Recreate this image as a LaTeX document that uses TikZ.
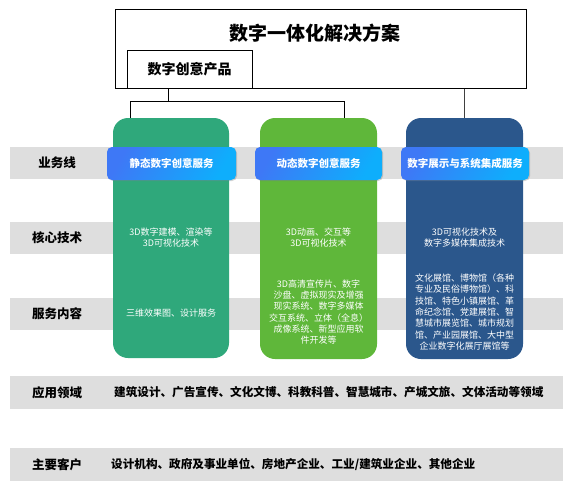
\documentclass[tikz,border=0pt]{standalone}
\usepackage{fontspec}
\setmainfont{Noto Sans CJK SC}
\usepackage{xcolor}
\usetikzlibrary{positioning,shadows}
\definecolor{bandGray}{RGB}{222,222,222}
\definecolor{svcGreen}{RGB}{47,168,123}
\definecolor{svcLime}{RGB}{95,183,58}
\definecolor{svcNavy}{RGB}{43,87,140}
\definecolor{tabBlue}{RGB}{62,120,246}
\definecolor{tabCyan}{RGB}{14,174,252}

\tikzset{
  rowlabel/.style={font=\fontsize{12.5}{14}\selectfont\bfseries, text=black},
  column/.style={rounded corners=15pt, minimum width=117pt, inner sep=0pt},
  tabbox/.style={rounded corners=5pt, minimum height=33pt, inner sep=0pt,
    left color=tabBlue, right color=tabCyan, shading angle=60,
    drop shadow={opacity=0.35, shadow xshift=1pt, shadow yshift=-1pt},
    text=white, font=\fontsize{10.5}{12}\selectfont\bfseries},
  bodytext/.style={text=white, align=center, inner sep=0pt,
    font=\fontsize{9}{11.3}\selectfont},
  link/.style={black, line width=0.8pt}
}

\begin{document}
\begin{tikzpicture}[x=1pt,y=-1pt]
    \useasboundingbox (0,0) rectangle (574,488);

    % row bands
    \foreach \top/\bot/\name in {147/179/业务线, 222/254/核心技术, 298/330/服务内容, 376/409/应用领域, 448/481/主要客户}{
      \fill[bandGray] (10,\top) rectangle (563,\bot);
      \node[rowlabel] at (57,{(\top+\bot)/2}) {\name};
    }

    % top solution box
    \node[draw, line width=0.9pt, minimum width=411pt, minimum height=78.5pt, inner sep=0pt] (sol) at (320.5,49) {};
    \node[font=\fontsize{19}{22}\selectfont\bfseries] (title) at (315,33) {数字一体化解决方案};
    \node[draw, line width=0.9pt, minimum width=125pt, minimum height=38pt, inner sep=0pt,
          font=\fontsize{14}{16}\selectfont\bfseries] (prod) at (189.5,69) {数字创意产品};

    % service columns
    \node[column, fill=svcGreen, minimum width=116pt, minimum height=240pt] (s1) at (171,238) {};
    \node[column, fill=svcLime, minimum height=241pt] (s2) at (318.5,238.5) {};
    \node[column, fill=svcNavy, minimum height=241pt] (s3) at (464.5,238.5) {};

    % connectors
    \coordinate (jn) at (168,101);
    \coordinate (jl) at (130,101);
    \coordinate (jr) at (344,101);
    \draw[link] (prod.south -| jn) -- (jn);
    \draw[link] (jl |- s1.north) -- (jl) -- (jr) -- (jr |- s2.north);
    \draw[link, black!75] (sol.south -| s3.north) -- (s3.north);

    % business line tabs
    \node[tabbox, minimum width=129pt] (t1) at (171.5,163.5) {静态数字创意服务};
    \node[tabbox, minimum width=127pt] (t2) at (318.5,163.5) {动态数字创意服务};
    \node[tabbox, minimum width=128pt] (t3) at (465,163.5) {数字展示与系统集成服务};

    % core technology
    \node[bodytext] (c1) at (171,237.5) {3D数字建模、渲染等\\3D可视化技术};
    \node[bodytext] (c2) at (318.5,237.5) {3D动画、交互等\\3D可视化技术};
    \node[bodytext] (c3) at (464.5,237.5) {3D可视化技术及\\数字多媒体集成技术};

    % service content
    \node[bodytext] (d1) at (171,313) {三维效果图、设计服务};
    \node[bodytext] (d2) at (318.5,312) {3D高清宣传片、数字\\沙盘、虚拟现实及增强\\现实系统、数字多媒体\\交互系统、立体（全息）\\成像系统、新型应用软\\件开发等};
    \node[bodytext] (d3) at (464.5,312) {文化展馆、博物馆（各种\\专业及民俗博物馆）、科\\技馆、特色小镇展馆、革\\命纪念馆、党建展馆、智\\慧城市展览馆、城市规划\\馆、产业园展馆、大中型\\企业数字化展厅展馆等};

    % fields and clients
    \node[anchor=west, inner sep=0pt, font=\fontsize{11.6}{13}\selectfont\bfseries] (fields) at (114,392.5) {建筑设计、广告宣传、文化文博、科教科普、智慧城市、产城文旅、文体活动等领域};
    \node[anchor=west, inner sep=0pt, font=\fontsize{11.6}{13}\selectfont\bfseries] (clients) at (111,464.5) {设计机构、政府及事业单位、房地产企业、工业/建筑业企业、其他企业};
\end{tikzpicture}
\end{document}
